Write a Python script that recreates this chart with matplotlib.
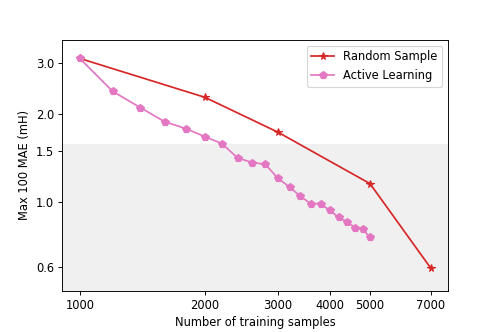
import matplotlib
matplotlib.use("Agg")
import matplotlib.pyplot as plt
from matplotlib.ticker import NullLocator, FixedLocator, FixedFormatter

random_x = [1000, 2000, 3000, 5000, 7000]
random_y = [3.11, 2.29, 1.74, 1.16, 0.597]

active_x = [1000, 1200, 1400, 1600, 1800, 2000, 2200, 2400, 2600, 2800, 3000,
            3200, 3400, 3600, 3800, 4000, 4200, 4400, 4600, 4800, 5000]
active_y = [3.11, 2.40, 2.11, 1.89, 1.79, 1.68, 1.59, 1.42, 1.37, 1.35, 1.21,
            1.13, 1.05, 0.99, 0.99, 0.94, 0.89, 0.86, 0.82, 0.81, 0.76]

xticks = [1000, 2000, 3000, 4000, 5000, 7000]
xtick_labels = ["1000", "2000", "3000", "4000", "5000", "7000"]
yticks = [0.6, 1.0, 1.5, 2.0, 3.0]
ytick_labels = ["0.6", "1.0", "1.5", "2.0", "3.0"]
shade_top = 1.585

fig, ax = plt.subplots(figsize=(6, 4), dpi=83)
fig.subplots_adjust(left=0.125, right=0.9, top=0.88, bottom=0.125)

ax.axhspan(0.3, shade_top, color="#f0f0f0", zorder=0)
ax.plot(random_x, random_y, color="#d62728", marker="*", markersize=6.5,
        linewidth=1.5, label="Random Sample", zorder=3)
ax.plot(active_x, active_y, color="#e377c2", marker="p", markersize=6.5,
        linewidth=1.5, label="Active Learning", zorder=3)

ax.set_xscale("log")
ax.set_yscale("log")
ax.set_ylim(0.5, 3.6)
ax.xaxis.set_major_locator(FixedLocator(xticks))
ax.xaxis.set_major_formatter(FixedFormatter(xtick_labels))
ax.xaxis.set_minor_locator(NullLocator())
ax.yaxis.set_major_locator(FixedLocator(yticks))
ax.yaxis.set_major_formatter(FixedFormatter(ytick_labels))
ax.yaxis.set_minor_locator(NullLocator())

ax.set_xlabel("Number of training samples")
ax.set_ylabel("Max 100 MAE (mH)")
ax.legend(loc="upper right")

fig.savefig("out.png", dpi=83)
